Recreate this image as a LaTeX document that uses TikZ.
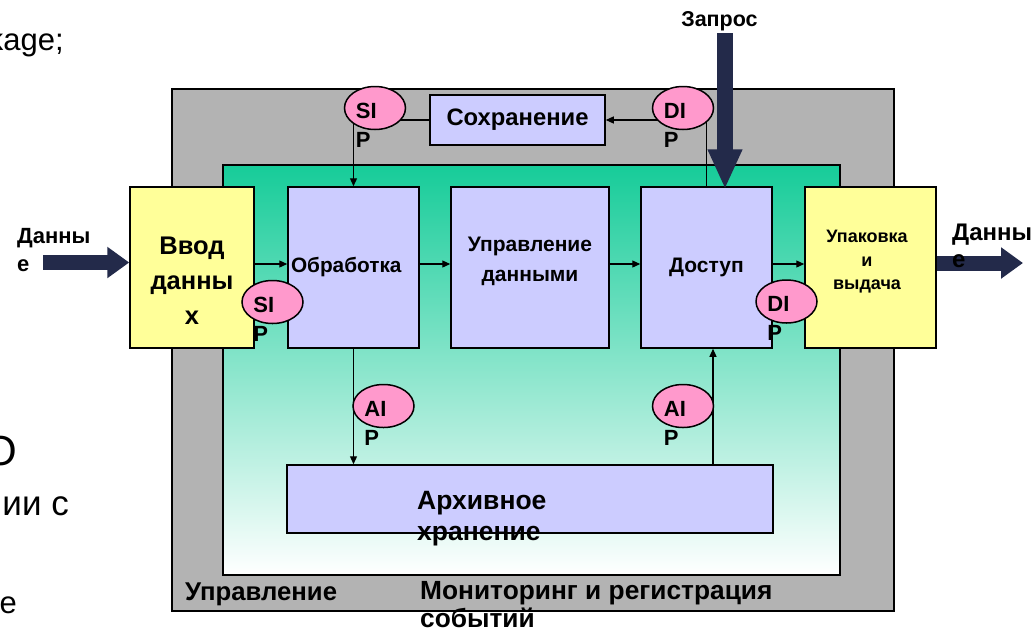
\documentclass[tikz,border=0pt]{standalone}
\usepackage{fontspec}
\setmainfont{Liberation Sans}
\usetikzlibrary{arrows.meta,calc,shapes.geometric}

\definecolor{framegray}{RGB}{179,179,179}
\definecolor{boxlav}{RGB}{204,204,255}
\definecolor{boxyel}{RGB}{255,255,153}
\definecolor{pipk}{RGB}{255,153,204}
\definecolor{navy}{RGB}{35,42,74}
\definecolor{sea}{RGB}{22,204,153}
\definecolor{seamid}{RGB}{182,232,212}

\newcommand\pxf[2]{\fontsize{#1pt}{#2pt}\selectfont}

\tikzset{
  block/.style={draw=black, line width=1.5pt, inner sep=0pt, fill=boxlav},
  ioblock/.style={block, fill=boxyel},
  lbl/.style={inner sep=0pt, font=\bfseries},
  bgtxt/.style={inner sep=0pt, anchor=base east},
  conn/.style={line width=1.2pt, -{Triangle[length=8pt,width=7pt]}},
  flowarrow/.style={draw=navy, line width=15pt, -{Triangle[length=22pt,width=30pt]}},
  pip/.style={ellipse, draw=black, line width=1.5pt, fill=pipk,
    minimum width=61pt, minimum height=43pt, inner sep=0pt},
  piptxt/.style={inner sep=0pt, anchor=base west, font=\bfseries\pxf{22}{22}},
}

\begin{document}
\begin{tikzpicture}[x=1pt,y=-1pt]
\fill[white] (0,0) rectangle (1031,633);
\useasboundingbox (0,0) rectangle (1031,633);

% surrounding slide text
\node[bgtxt, font=\pxf{31}{31}] (bgA) at (64,50) {kage;};
\node[bgtxt, font=\pxf{42}{42}] (bgB) at (17,465) {О};
\node[bgtxt, font=\pxf{35}{35}] (bgC) at (69,515) {ии с};
\node[bgtxt, font=\pxf{31}{31}] (bgD) at (17,613) {е};

% management frame and monitored area
\draw[line width=1.5pt, fill=framegray] (172,89) rectangle (894,611);
\draw[line width=1.5pt, top color=sea, middle color=seamid, bottom color=white]
  (223,165) rectangle (840,575);

% functional blocks
\node[ioblock, minimum width=124pt, minimum height=161pt] (vvod) at (192,267.5) {};
\node[block, minimum width=131pt, minimum height=161pt, text width=125pt, align=left,
  font=\bfseries\pxf{20.8}{20.8}] (obr) at (353.5,267.5) {Обработка};
\node[block, minimum width=158pt, minimum height=161pt] (upr) at (530,267.5) {};
\node[block, minimum width=131pt, minimum height=161pt,
  font=\bfseries\pxf{21}{21}] (dost) at (706.5,267.5) {Доступ};
\node[ioblock, minimum width=131pt, minimum height=161pt] (upak) at (870.5,267.5) {};
\node[block, minimum width=486pt, minimum height=68pt] (arch) at (530,499) {};
\node[block, minimum width=175pt, minimum height=50pt,
  font=\bfseries\pxf{23.8}{23.8}] (sohr) at (517.5,120) {Сохранение};

% block captions
\node[lbl, anchor=north, align=center, font=\bfseries\pxf{25.5}{35}] (vvodT) at (192,237) {Ввод\\данны\\х};
\node[lbl, anchor=north, align=center, font=\bfseries\pxf{21}{29.5}] (uprT) at (530,237) {Управление\\данными};
\node[lbl, anchor=north, align=center, font=\bfseries\pxf{18}{23.5}] (upakT) at (867,230) {Упаковка\\и\\выдача};
\node[lbl, anchor=north west, align=left, font=\bfseries\pxf{26.5}{31}] (archT) at (417,491) {Архивное\\хранение};

% data flow between blocks
\coordinate (row) at (0,264);
\coordinate (upAIP) at (713,0);
\draw[conn] (vvod.east |- row) -- (obr.west |- row);
\draw[conn] (obr.east |- row) -- (upr.west |- row);
\draw[conn] (upr.east |- row) -- (dost.west |- row);
\draw[conn] (dost.east |- row) -- (upak.west |- row);
\draw[conn] (sohr.west) -| (obr.north);
\draw[conn] (dost.north) |- (sohr.east);
\draw[conn] (obr.south) -- (obr.south |- arch.north);
\draw[conn] (arch.north -| upAIP) -- (dost.south -| upAIP);

% interface points
\node[pip] (sipT) at (375,108) {};
\node[pip] (dipT) at (683,108) {};
\node[pip] (sipL) at (272.5,302) {};
\node[pip] (dipR) at (786.5,301.5) {};
\node[pip] (aipL) at (383.5,406) {};
\node[pip] (aipR) at (683,406) {};
\foreach \e/\t in {sipT/SI, dipT/DI, sipL/SI, dipR/DI, aipL/AI, aipR/AI} {
  \node[piptxt] (\e-a) at ($(\e.west)+(12,10)$) {\t};
  \node[piptxt] (\e-b) at ($(\e.west)+(12,39)$) {P};
}

% external flows
\coordinate (inTail) at (43,262.5);
\coordinate (outHead) at (1023,263);
\coordinate (qTail) at (725,33);
\draw[flowarrow] (inTail) -- (vvod.west |- inTail);
\draw[flowarrow] (upak.east |- outHead) -- (outHead);
\draw[flowarrow, line width=16pt, -{Triangle[length=40pt,width=32pt]}]
  (qTail) -- ($(qTail |- dost.north)+(0,3)$);

\node[lbl, anchor=base, font=\bfseries\pxf{21.5}{21.5}] (zapros) at (719.5,26) {Запрос};
\node[lbl, anchor=north west, align=left, font=\bfseries\pxf{22}{28}] (inLbl) at (17,228) {Данны\\е};
\node[lbl, anchor=north west, align=left, font=\bfseries\pxf{24}{27}] (outLbl) at (952,224) {Данны\\е};

% frame captions
\node[lbl, anchor=base west, font=\bfseries\pxf{25.7}{25.7}] (ctl) at (185,600) {Управление};
\node[lbl, anchor=north west, align=left, font=\bfseries\pxf{26.3}{28}] (mon) at (420,581)
  {Мониторинг и регистрация\\событий};
\end{tikzpicture}
\end{document}
